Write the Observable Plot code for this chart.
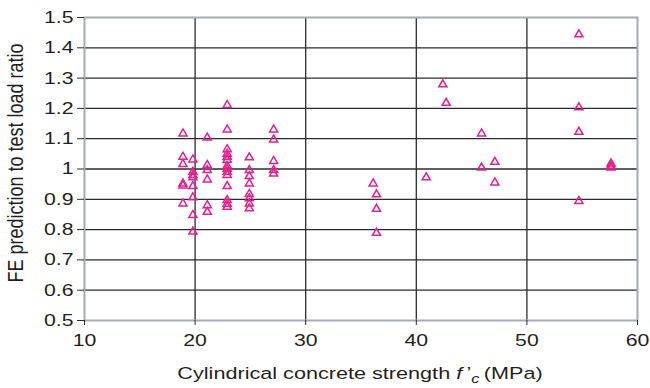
<!DOCTYPE html>
<html>
<head>
<meta charset="utf-8">
<script src="https://cdn.jsdelivr.net/npm/d3@7"></script>
<script src="https://cdn.jsdelivr.net/npm/@observablehq/plot@0.6"></script>
<style>
  html, body { margin: 0; padding: 0; background: #fff; }
  #chart { width: 650px; height: 388px; }
</style>
</head>
<body>
<div id="chart"></div>
<script>
// f'c (MPa) of each test
const fc = [
  18.9, 18.9, 18.9, 18.9, 18.9, 18.9,
  19.8, 19.8, 19.8, 19.8, 19.8, 19.8, 19.8, 19.8,
  21.1, 21.1, 21.1, 21.1, 21.1, 21.1,
  22.9, 22.9, 22.9, 22.9, 22.9, 22.9, 22.9, 22.9, 22.9, 22.9, 22.9, 22.9, 22.9, 22.9,
  24.9, 24.9, 24.9, 24.9, 24.9, 24.9, 24.9, 24.9,
  27.1, 27.1, 27.1, 27.1, 27.1,
  36.1, 36.4, 36.4, 36.4,
  40.9,
  42.4, 42.7,
  45.9, 45.9,
  47.1, 47.1,
  54.7, 54.7, 54.7, 54.7,
  57.6, 57.6, 57.6
];
// FE prediction / test load ratio
const ratio = [
  1.117, 1.040, 1.016, 0.952, 0.945, 0.886,
  1.031, 0.990, 0.980, 0.972, 0.943, 0.906, 0.848, 0.793,
  1.103, 1.013, 0.996, 0.965, 0.880, 0.858,
  1.211, 1.130, 1.065, 1.050, 1.040, 1.030, 1.010, 1.000, 0.990, 0.980, 0.943, 0.897, 0.885, 0.875,
  1.038, 0.996, 0.976, 0.952, 0.917, 0.903, 0.886, 0.870,
  1.130, 1.097, 1.026, 0.996, 0.985,
  0.952, 0.916, 0.868, 0.789,
  0.972,
  1.279, 1.218,
  1.117, 1.004,
  1.023, 0.955,
  1.444, 1.203, 1.122, 0.894,
  1.018, 1.010, 1.004
];
const xTicks = [10, 20, 30, 40, 50, 60];
const yTicks = [0.5, 0.6, 0.7, 0.8, 0.9, 1, 1.1, 1.2, 1.3, 1.4, 1.5];
const yTickLabels = ["0.5", "0.6", "0.7", "0.8", "0.9", "1", "1.1", "1.2", "1.3", "1.4", "1.5"];
const xGrid = [20, 30, 40, 50];
const yGrid = [0.6, 0.7, 0.8, 0.9, 1, 1.1, 1.2, 1.3, 1.4];

const data = fc.map((x, i) => ({x, y: ratio[i]}));

const font = "'Liberation Sans', Arial, sans-serif";
const textColor = "#231f20";
const stretch = 1.25; // the reference text is drawn horizontally widened

const plot = Plot.plot({
  width: 650,
  height: 388,
  marginLeft: 84,
  marginRight: 13,
  marginTop: 17,
  marginBottom: 68,
  style: {fontFamily: font, fontSize: "17px", color: textColor, background: "#fff"},
  x: {domain: [10, 60]},
  y: {domain: [0.5, 1.5]},
  marks: [
    Plot.ruleY(yGrid, {stroke: "#2b2b2b", strokeWidth: 1.3}),
    Plot.ruleX(xGrid, {stroke: "#2b2b2b", strokeWidth: 1.3}),
    Plot.frame({stroke: "#a4acb2", strokeWidth: 2}),
    Plot.axisY({ticks: yTicks, tickFormat: d => yTickLabels[yTicks.indexOf(d)], tickSize: 7, tickPadding: 4, label: null, stroke: "#2b2b2b", fill: textColor}),
    Plot.axisX({ticks: xTicks, tickSize: 5, tickPadding: 8, label: null, stroke: "#2b2b2b", fill: textColor}),
    Plot.dot(data, {x: "x", y: "y", symbol: "triangle", r: 3, stroke: "#e4208c", strokeWidth: 1.5, fill: "none"})
  ]
});

const svg = d3.select(plot);
// widen tick labels horizontally about their anchor
svg.selectAll('g[aria-label="y-axis tick label"] text, g[aria-label="x-axis tick label"] text').each(function() {
  const old = this.getAttribute("transform") || "";
  const ax = parseFloat(this.getAttribute("x")) || 0;
  this.setAttribute("transform", `${old} translate(${ax},0) scale(${stretch},1) translate(${-ax},0)`);
});
// y axis title
svg.append("text")
  .attr("transform", `translate(23,163) scale(${stretch},1) rotate(-90)`)
  .attr("text-anchor", "middle")
  .attr("font-family", font)
  .attr("font-size", "18px")
  .attr("fill", textColor)
  .text("FE prediction to test load ratio");
// x axis title with italic f'c
const xt = svg.append("text")
  .attr("transform", `translate(360,379) scale(${stretch},1)`)
  .attr("text-anchor", "middle")
  .attr("font-family", font)
  .attr("font-size", "17.3px")
  .attr("fill", textColor);
xt.append("tspan").text("Cylindrical concrete strength ");
xt.append("tspan").attr("font-style", "italic").text("f");
xt.append("tspan").text("\u2009\u2019");
xt.append("tspan").attr("font-style", "italic").attr("font-size", "13px").attr("dy", "4").text("c");
xt.append("tspan").attr("dy", "-4").text("\u2009(MPa)");

document.getElementById("chart").appendChild(plot);
</script>
</body>
</html>
